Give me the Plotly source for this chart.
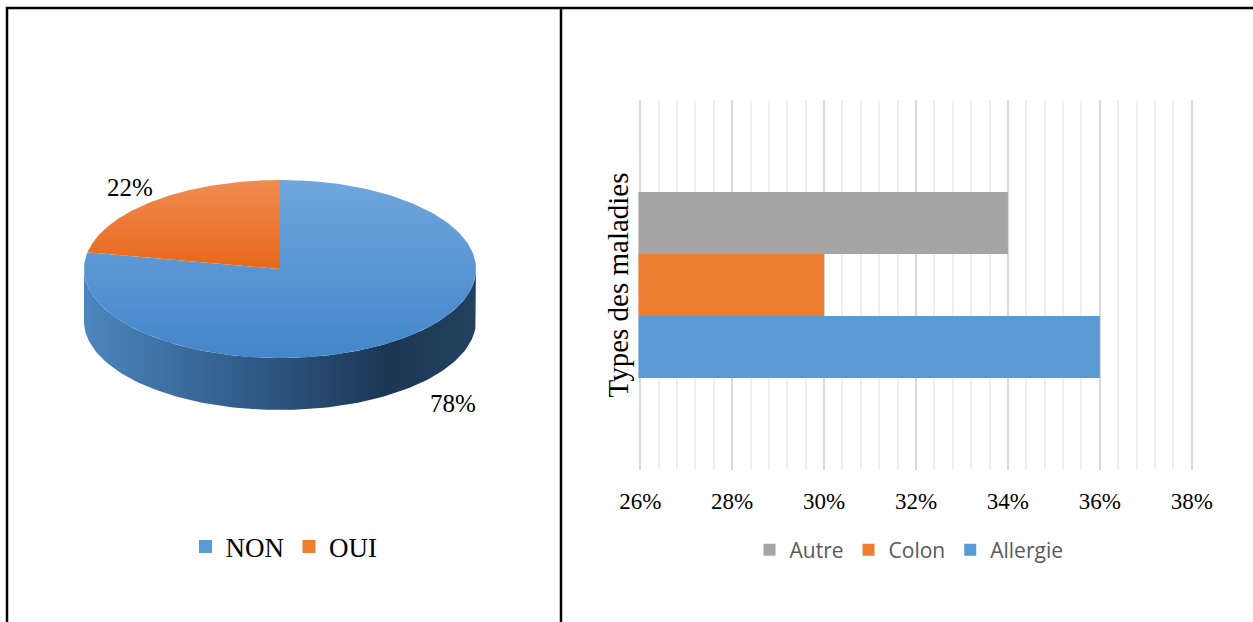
import numpy as np
import plotly.graph_objects as go

W, H = 1253, 622

# ---- pie data ----
pie_labels = ["NON", "OUI"]
pie_values = [78, 22]
pie_colors = ["#5b9bd5", "#ed7d31"]

# ---- bar data ----
bar_category = "Types des maladies"
bar_series = ["Allergie", "Colon", "Autre"]
bar_values = [0.36, 0.30, 0.34]
bar_colors = ["#5b9bd5", "#ed7d31", "#a5a5a5"]
x_ticks = [0.26, 0.28, 0.30, 0.32, 0.34, 0.36, 0.38]

# gradient palettes used for the tilted pie faces
top_scales = {
    "NON": [[0, "#6fa6dd"], [1, "#4386ca"]],
    "OUI": [[0, "#f08c52"], [1, "#e8681a"]],
}
side_scales = {
    "NON": [[0, "#4c86bf"], [0.45, "#2e5883"], [0.78, "#1c3655"], [1, "#23425f"]],
    "OUI": [[0, "#c65a1c"], [1, "#7a3610"]],
}

# tilted-pie geometry (pixel units of the left panel)
CX, CY, RX, RY, DEPTH = 280, 269, 196, 89, 52
label_pos = {"NON": (453, 403), "OUI": (130, 187)}


def ellipse(thetas, dy=0.0):
    t = np.radians(thetas)
    return CX + RX * np.cos(t), CY - RY * np.sin(t) + dy


fig = go.Figure()

total = float(sum(pie_values))
angles = []
cum = 0.0
for lab, v in zip(pie_labels, pie_values):
    a0 = 90 - 360 * cum / total
    a1 = 90 - 360 * (cum + v) / total
    angles.append((lab, v, a0, a1))
    cum += v

# side wall: front half of the rim, extruded downward
for lab, v, a0, a1 in angles:
    lo, hi = a1, a0
    for k in range(-2, 2):
        s, e = max(lo, 180 + 360 * k), min(hi, 360 + 360 * k)
        if e <= s:
            continue
        th = np.linspace(s, e, 120)
        xt, yt = ellipse(th)
        xb, yb = ellipse(th[::-1], DEPTH)
        fig.add_trace(go.Scatter(
            x=np.concatenate([xt, xb]), y=np.concatenate([yt, yb]),
            mode="lines", fill="toself", line=dict(width=0),
            fillgradient=dict(type="horizontal", start=CX - RX, stop=CX + RX,
                              colorscale=side_scales[lab]),
            hoverinfo="skip", showlegend=False, xaxis="x2", yaxis="y2"))

# top faces of the slices
for lab, v, a0, a1 in angles:
    th = np.linspace(a0, a1, 200)
    xa, ya = ellipse(th)
    xs = np.concatenate([[CX], xa, [CX]])
    ys = np.concatenate([[CY], ya, [CY]])
    fig.add_trace(go.Scatter(
        x=xs, y=ys, mode="lines", fill="toself", line=dict(width=0),
        fillgradient=dict(type="vertical", start=ys.min(), stop=ys.max(),
                          colorscale=top_scales[lab]),
        hoverinfo="skip", showlegend=False, xaxis="x2", yaxis="y2"))

# value labels of the pie
for lab, v in zip(pie_labels, pie_values):
    px, py = label_pos[lab]
    fig.add_annotation(x=px, y=py, xref="x2", yref="y2", text=f"{v}%",
                       showarrow=False,
                       font=dict(family="Liberation Serif", size=25, color="#000000"))

# pie legend entries
for lab, c in zip(pie_labels, pie_colors):
    fig.add_trace(go.Scatter(
        x=[None], y=[None], mode="markers", name=lab,
        marker=dict(symbol="square", size=13, color=c),
        xaxis="x2", yaxis="y2", legend="legend"))

# bars
for s, v, c in zip(bar_series, bar_values, bar_colors):
    fig.add_trace(go.Bar(
        y=[bar_category], x=[v], name=s, orientation="h",
        marker=dict(color=c, line=dict(width=0)),
        legend="legend2", hoverinfo="skip"))

# table cell borders
bw = 2.5
fig.add_shape(type="line", xref="paper", yref="paper",
              x0=6 / W, x1=1, y0=1 - 8 / H, y1=1 - 8 / H,
              line=dict(color="#000000", width=bw))
for xp in (7, 561):
    fig.add_shape(type="line", xref="paper", yref="paper",
                  x0=xp / W, x1=xp / W, y0=0, y1=1 - 7 / H,
                  line=dict(color="#000000", width=bw))

fig.update_layout(
    width=W, height=H,
    margin=dict(l=0, r=0, t=0, b=0, autoexpand=False),
    paper_bgcolor="#ffffff", plot_bgcolor="#ffffff",
    barmode="group", bargap=0.497, bargroupgap=0,
    xaxis=dict(domain=[638.4 / W, 1193.6 / W], range=[0.2596, 0.3804],
               tickvals=x_ticks, tickformat=".0%",
               showgrid=True, gridcolor="#d9d9d9", gridwidth=2,
               minor=dict(dtick=0.004, tick0=0.26, showgrid=True,
                          gridcolor="#efefef", gridwidth=1.6),
               zeroline=False, showline=False, ticks="",
               ticklabelstandoff=15, automargin=False,
               tickfont=dict(family="Liberation Serif", size=23, color="#000000"),
               fixedrange=True),
    yaxis=dict(domain=[1 - 470 / H, 1 - 100 / H], range=[-0.5, 0.5],
               type="category", showticklabels=False, showgrid=False,
               zeroline=False, showline=False, ticks="", automargin=False,
               title=dict(text=bar_category, standoff=0,
                          font=dict(family="Liberation Serif", size=29, color="#000000")),
               fixedrange=True),
    xaxis2=dict(domain=[0, 561 / W], range=[0, 561], visible=False, fixedrange=True),
    yaxis2=dict(domain=[0, 1], range=[H, 0], visible=False, fixedrange=True,
                anchor="x2"),
    legend=dict(orientation="h", x=284 / W, y=1 - 547 / H,
                xanchor="center", yanchor="middle",
                font=dict(family="Liberation Serif", size=27, color="#000000"),
                itemwidth=30, bgcolor="rgba(0,0,0,0)"),
    legend2=dict(orientation="h", x=909 / W, y=1 - 550 / H,
                 xanchor="center", yanchor="middle", traceorder="reversed",
                 font=dict(family="Open Sans", size=21, color="#595959"),
                 itemwidth=30, bgcolor="rgba(0,0,0,0)"),
    showlegend=True,
)

fig.write_html("out.html")
